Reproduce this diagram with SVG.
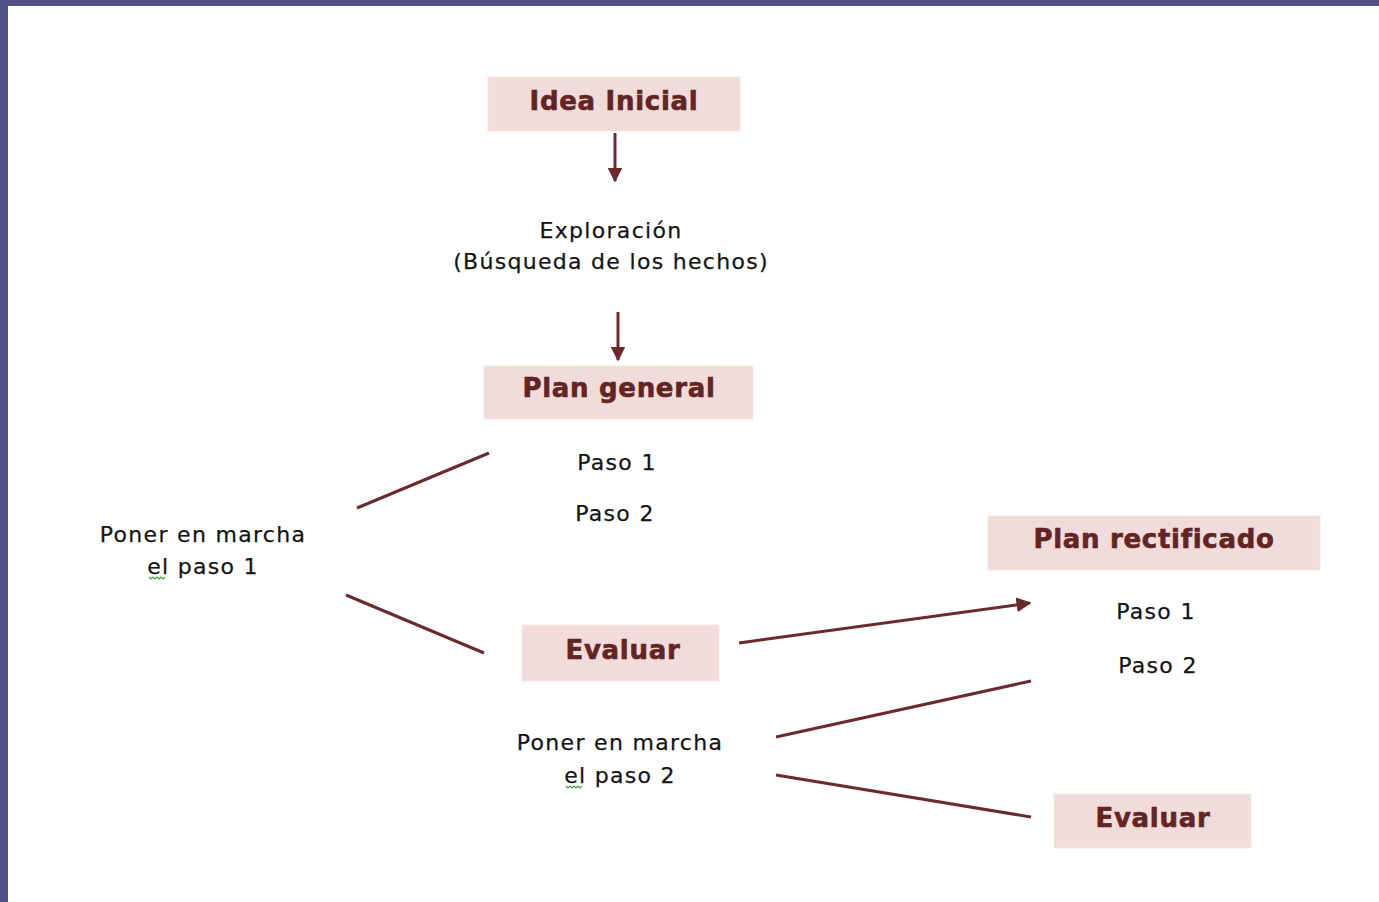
<svg xmlns="http://www.w3.org/2000/svg" width="1379" height="902" viewBox="0 0 1379 902">
<style>
.box{fill:#f2dcdb;stroke:#f5e4e3;stroke-width:1}
.h{font-family:"DejaVu Sans",Verdana,sans-serif;font-weight:bold;font-size:26px;letter-spacing:0.7px;fill:#632523;stroke:#632523;stroke-width:0.6;text-anchor:middle}
.t{font-family:"DejaVu Sans",Verdana,sans-serif;font-size:22px;letter-spacing:1.3px;fill:#141414;stroke:#141414;stroke-width:0.25;text-anchor:middle}
.c{stroke:#6b2a2c;stroke-width:3;fill:none}
.sq{stroke:#3aa33a;stroke-width:1.2;fill:none}
</style>
<defs>
<marker id="ah" viewBox="0 0 10 10" refX="9" refY="5" markerWidth="5" markerHeight="5" orient="auto" markerUnits="strokeWidth">
<path d="M0,0 L10,5 L0,10 z" fill="#6b2a2c"/>
</marker>
</defs>
<rect x="0" y="0" width="1379" height="902" fill="#ffffff"/>
<rect x="0" y="0" width="1379" height="6" fill="#525289"/>
<rect x="0" y="0" width="8" height="902" fill="#525289"/>

<g id="idea-inicial">
<rect class="box" x="488" y="77" width="252" height="54"/>
<text class="h" x="614" y="110">Idea Inicial</text>
</g>
<g id="exploracion">
<text class="t" x="611" y="238">Exploración</text>
<text class="t" x="611" y="269">(Búsqueda de los hechos)</text>
</g>
<g id="plan-general">
<rect class="box" x="484" y="366" width="269" height="53"/>
<text class="h" x="619" y="397">Plan general</text>
<text class="t" x="617" y="470">Paso 1</text>
<text class="t" x="615" y="521">Paso 2</text>
</g>
<g id="poner-paso1">
<text class="t" x="203" y="542">Poner en marcha</text>
<text class="t" x="203" y="574">el paso 1</text>
<path class="sq" d="M149,577 l2,2 l2,-2 l2,2 l2,-2 l2,2 l2,-2 l2,2 l2,-2"/>
</g>
<g id="evaluar-1">
<rect class="box" x="522" y="625" width="197" height="56"/>
<text class="h" x="623" y="659">Evaluar</text>
</g>
<g id="plan-rectificado">
<rect class="box" x="988" y="516" width="332" height="54"/>
<text class="h" x="1154" y="548">Plan rectificado</text>
<text class="t" x="1156" y="619">Paso 1</text>
<text class="t" x="1158" y="673">Paso 2</text>
</g>
<g id="poner-paso2">
<text class="t" x="620" y="750">Poner en marcha</text>
<text class="t" x="620" y="783">el paso 2</text>
<path class="sq" d="M566,786 l2,2 l2,-2 l2,2 l2,-2 l2,2 l2,-2 l2,2 l2,-2"/>
</g>
<g id="evaluar-2">
<rect class="box" x="1054" y="794" width="197" height="54"/>
<text class="h" x="1153" y="827">Evaluar</text>
</g>

<g id="connectors">
<line class="c" x1="615" y1="133" x2="615" y2="181" marker-end="url(#ah)"/>
<line class="c" x1="618" y1="312" x2="618" y2="360" marker-end="url(#ah)"/>
<line class="c" x1="357" y1="508" x2="489" y2="453"/>
<line class="c" x1="346" y1="595" x2="484" y2="653"/>
<line class="c" x1="739" y1="643" x2="1030" y2="603" marker-end="url(#ah)"/>
<line class="c" x1="776" y1="737" x2="1031" y2="681"/>
<line class="c" x1="776" y1="775" x2="1031" y2="817"/>
</g>
</svg>
